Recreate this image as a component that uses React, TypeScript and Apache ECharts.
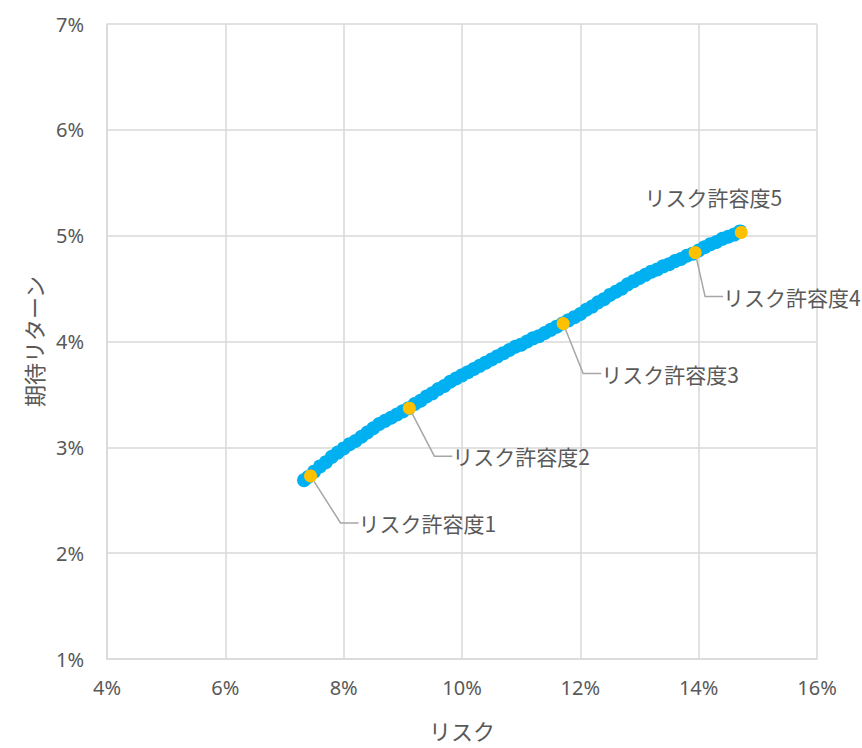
import React, { useEffect, useRef } from "react";
import * as echarts from "echarts";

// Efficient frontier (risk %, expected return %)
const frontierRisk = [
  7.33, 7.4, 7.5, 7.6, 7.7, 7.8, 7.9, 8.0, 8.1, 8.2, 8.3, 8.4, 8.5, 8.6, 8.7, 8.8, 8.9, 9.0, 9.1, 9.2,
  9.3, 9.4, 9.5, 9.6, 9.7, 9.8, 9.9, 10.0, 10.1, 10.2, 10.3, 10.4, 10.5, 10.6, 10.7, 10.8, 10.9, 11.0,
  11.1, 11.2, 11.3, 11.4, 11.5, 11.6, 11.7, 11.8, 11.9, 12.0, 12.1, 12.2, 12.3, 12.4, 12.5, 12.6, 12.7,
  12.8, 12.9, 13.0, 13.1, 13.2, 13.3, 13.4, 13.5, 13.6, 13.7, 13.8, 13.9, 14.0, 14.1, 14.2, 14.3, 14.4,
  14.5, 14.6, 14.7,
];
const frontierReturn = [
  2.69, 2.72, 2.77, 2.82, 2.86, 2.91, 2.95, 2.99, 3.03, 3.06, 3.1, 3.14, 3.18, 3.22, 3.25, 3.28, 3.31,
  3.34, 3.37, 3.41, 3.44, 3.48, 3.51, 3.55, 3.58, 3.62, 3.65, 3.68, 3.71, 3.74, 3.77, 3.8, 3.83, 3.86,
  3.89, 3.92, 3.95, 3.97, 4.0, 4.03, 4.05, 4.08, 4.11, 4.14, 4.17, 4.2, 4.23, 4.26, 4.3, 4.33, 4.37,
  4.4, 4.44, 4.47, 4.5, 4.54, 4.57, 4.6, 4.63, 4.66, 4.68, 4.71, 4.73, 4.76, 4.78, 4.81, 4.83, 4.86,
  4.89, 4.92, 4.94, 4.97, 4.99, 5.01, 5.04,
];

// Highlighted risk-tolerance portfolios
const toleranceNames = ["リスク許容度1", "リスク許容度2", "リスク許容度3", "リスク許容度4", "リスク許容度5"];
const toleranceRisk = [7.44, 9.11, 11.71, 13.94, 14.72];
const toleranceReturn = [2.73, 3.37, 4.17, 4.84, 5.03];

// Axis settings
const xMin = 4, xMax = 16, xStep = 2;
const yMin = 1, yMax = 7, yStep = 1;

// Label offsets (pixels) relative to point
const labelOffsets = [
  { dx: 48, dy: 47, align: "left" },
  { dx: 43, dy: 48, align: "left" },
  { dx: 38, dy: 50, align: "left" },
  { dx: 28, dy: 44, align: "left" },
  { dx: -28, dy: -35, align: "center" },
];

const FONT = "'Noto Sans CJK JP', 'Noto Sans', sans-serif";
const TEXT_COLOR = "#595959";
const GRID_COLOR = "#D9D9D9";

export default function App() {
  const ref = useRef<HTMLDivElement>(null);
  useEffect(() => {
    if (!ref.current) return;
    const chart = echarts.init(ref.current, null, { renderer: "svg" });
    const frontier = frontierRisk.map((x, i) => [x, frontierReturn[i]]);
    const tolerance = toleranceRisk.map((x, i) => ({
      value: [x, toleranceReturn[i]],
      name: toleranceNames[i],
      label: {
        align: labelOffsets[i].align,
      },
      labelLine: { show: i !== 4 },
    }));
    chart.setOption({
      animation: false,
      backgroundColor: "#ffffff",
      textStyle: { fontFamily: FONT },
      grid: { left: 107, right: 45, top: 24, bottom: 89, containLabel: false },
      xAxis: {
        type: "value",
        min: xMin,
        max: xMax,
        interval: xStep,
        name: "リスク",
        nameLocation: "middle",
        nameGap: 60,
        nameTextStyle: { fontSize: 22, color: TEXT_COLOR, fontFamily: FONT },
        axisLine: { show: true, lineStyle: { color: GRID_COLOR, width: 1.5 } },
        axisTick: { show: false },
        axisLabel: {
          formatter: (v: number) => `${v}%`,
          fontSize: 20,
          color: TEXT_COLOR,
          margin: 18,
          fontFamily: "'Noto Sans', sans-serif",
        },
        splitLine: { show: true, lineStyle: { color: GRID_COLOR, width: 1.5 } },
      },
      yAxis: {
        type: "value",
        min: yMin,
        max: yMax,
        interval: yStep,
        name: "期待リターン",
        nameLocation: "middle",
        nameGap: 63,
        nameTextStyle: { fontSize: 22, color: TEXT_COLOR, fontFamily: FONT },
        axisLine: { show: true, lineStyle: { color: GRID_COLOR, width: 1.5 } },
        axisTick: { show: false },
        axisLabel: {
          formatter: (v: number) => `${v}%`,
          fontSize: 20,
          color: TEXT_COLOR,
          margin: 23,
          fontFamily: "'Noto Sans', sans-serif",
        },
        splitLine: { show: true, lineStyle: { color: GRID_COLOR, width: 1.5 } },
      },
      series: [
        {
          type: "scatter",
          data: frontier,
          symbol: "circle",
          symbolSize: 14,
          itemStyle: { color: "#00B0F0", opacity: 1 },
          z: 2,
        },
        {
          type: "scatter",
          data: tolerance,
          symbol: "circle",
          symbolSize: 13,
          itemStyle: { color: "#FFC000", opacity: 1 },
          z: 3,
          label: {
            show: true,
            position: "inside",
            formatter: (p: any) => p.name,
            fontSize: 21,
            color: TEXT_COLOR,
            fontFamily: FONT,
            verticalAlign: "middle",
          },
          labelLine: {
            show: true,
            length2: 18,
            lineStyle: { color: "#A6A6A6", width: 1.5 },
          },
          labelLayout: (params: any) => ({
            dx: labelOffsets[params.dataIndex].dx,
            dy: labelOffsets[params.dataIndex].dy,
          }),
        },
      ],
    });
    return () => chart.dispose();
  }, []);
  return (
    <div
      ref={ref}
      style={{ position: "fixed", left: 0, top: 0, width: 862, height: 748, background: "#fff" }}
    />
  );
}
